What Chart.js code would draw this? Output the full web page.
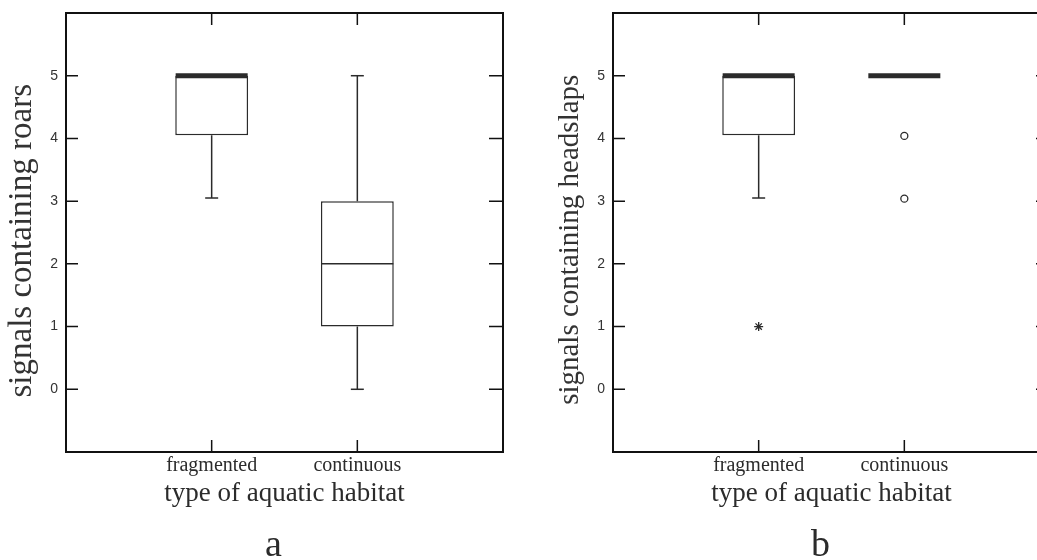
<!DOCTYPE html>
<html>
<head>
<meta charset="utf-8">
<script src="https://cdn.jsdelivr.net/npm/chart.js@4.4.1/dist/chart.umd.min.js"></script>
<style>
  html, body { margin: 0; padding: 0; background: #fff; }
  body { width: 1037px; height: 560px; overflow: hidden; position: relative; }
  canvas { position: absolute; top: 0; }
  #roars { left: 0; }
  #headslaps { left: 547px; }
</style>
</head>
<body>
<canvas id="roars" width="547" height="560"></canvas>
<canvas id="headslaps" width="547" height="560"></canvas>
<script>
const categories = ['fragmented', 'continuous'];
const yTickValues = [0, 1, 2, 3, 4, 5];
const xTitle = 'type of aquatic habitat';

// panel a: signals containing roars
const roarsMin = [3.05, 0];
const roarsQ1 = [4.05, 1];
const roarsMedian = [5, 2];
const roarsQ3 = [5, 3];
const roarsMax = [5, 5];
const roarsOutliers = [[], []];
const roarsExtremes = [[], []];

// panel b: signals containing headslaps
const headslapsMin = [3.05, 5];
const headslapsQ1 = [4.05, 5];
const headslapsMedian = [5, 5];
const headslapsQ3 = [5, 5];
const headslapsMax = [5, 5];
const headslapsOutliers = [[], [4.04, 3.04]];
const headslapsExtremes = [[1], []];

const INK = '#2b2b2b';
const SERIF = "'Liberation Serif', 'Times New Roman', serif";
Chart.defaults.font.family = "'Liberation Sans', Arial, sans-serif";

// box frame with short inward tick marks on all four sides
const framePlugin = {
  id: 'frame',
  afterDatasetsDraw(chart) {
    const { ctx, chartArea: a, scales: { x, y } } = chart;
    ctx.save();
    ctx.strokeStyle = '#111';
    ctx.lineWidth = 2;
    ctx.strokeRect(a.left, a.top, a.right - a.left, a.bottom - a.top);
    ctx.lineWidth = 1.5;
    ctx.beginPath();
    yTickValues.forEach((v) => {
      const py = y.getPixelForValue(v);
      ctx.moveTo(a.left, py);
      ctx.lineTo(a.left + 12, py);
      ctx.moveTo(a.right - 14, py);
      ctx.lineTo(a.right, py);
    });
    categories.forEach((c, i) => {
      const px = x.getPixelForValue(i + 1);
      ctx.moveTo(px, a.top);
      ctx.lineTo(px, a.top + 12);
      ctx.moveTo(px, a.bottom);
      ctx.lineTo(px, a.bottom - 12);
    });
    ctx.stroke();
    ctx.restore();
  },
};

// fixed axis sizes, no extra label padding around the plot
function fixSize(w, h) {
  return (scale) => {
    if (w !== null) scale.width = w;
    if (h !== null) scale.height = h;
    scale.paddingTop = 0;
    scale.paddingBottom = 0;
    scale.paddingLeft = 0;
    scale.paddingRight = 0;
  };
}

function makePanel(id, s) {
  const boxes = categories.map((c, i) => ({ x: i + 1, y: [s.q1[i], s.q3[i]] }));
  const whiskers = [];
  const caps = [];
  categories.forEach((c, i) => {
    if (s.min[i] < s.q1[i]) {
      whiskers.push({ x: i + 1, y: s.min[i] }, { x: i + 1, y: s.q1[i] }, { x: i + 1, y: null });
      caps.push({ x: i + 1, y: s.min[i] });
    }
    if (s.max[i] > s.q3[i]) {
      whiskers.push({ x: i + 1, y: s.q3[i] }, { x: i + 1, y: s.max[i] }, { x: i + 1, y: null });
      caps.push({ x: i + 1, y: s.max[i] });
    }
  });
  const medians = categories.map((c, i) => ({ x: i + 1, y: s.median[i] }));
  const outliers = categories.flatMap((c, i) => s.outliers[i].map((v) => ({ x: i + 1, y: v })));
  const extremes = categories.flatMap((c, i) => s.extremes[i].map((v) => ({ x: i + 1, y: v })));

  return new Chart(document.getElementById(id), {
    type: 'bar',
    data: {
      datasets: [
        {
          type: 'bar',
          data: boxes,
          backgroundColor: '#fff',
          borderColor: INK,
          borderWidth: 1.5,
          borderSkipped: false,
          barPercentage: 0.5,
          categoryPercentage: 1,
          order: 4,
        },
        {
          type: 'line',
          data: whiskers,
          borderColor: INK,
          borderWidth: 1.5,
          pointRadius: 0,
          spanGaps: false,
          order: 3,
        },
        {
          type: 'line',
          data: caps,
          showLine: false,
          pointStyle: 'line',
          pointRadius: 6.5,
          pointBorderWidth: 1.5,
          pointBorderColor: INK,
          order: 2,
        },
        {
          type: 'line',
          data: medians,
          showLine: false,
          pointStyle: 'line',
          pointRadius: 36,
          pointBorderColor: INK,
          pointBorderWidth: (ctx) => (s.median[ctx.dataIndex] === s.q3[ctx.dataIndex] ? 5 : 1.5),
          order: 1,
        },
        {
          type: 'line',
          data: outliers,
          showLine: false,
          pointStyle: 'circle',
          pointRadius: 3.5,
          pointBackgroundColor: '#fff',
          pointBorderColor: INK,
          pointBorderWidth: 1.3,
          order: 0,
        },
        {
          type: 'line',
          data: extremes,
          showLine: false,
          pointStyle: 'star',
          pointRadius: 4.5,
          pointBorderColor: INK,
          pointBorderWidth: 1.3,
          order: 0,
        },
      ],
    },
    options: {
      responsive: false,
      animation: false,
      events: [],
      layout: { autoPadding: false, padding: { top: 13 } },
      plugins: {
        legend: { display: false },
        tooltip: { enabled: false },
        title: {
          display: true,
          text: s.letter,
          position: 'bottom',
          color: INK,
          font: { family: SERIF, size: 38, weight: 'normal', lineHeight: 0.7 },
          padding: { top: 0, bottom: 1 },
        },
      },
      scales: {
        x: {
          type: 'linear',
          min: 0,
          max: 3,
          offset: false,
          grid: { display: false, drawTicks: false },
          border: { display: false },
          ticks: {
            stepSize: 1,
            autoSkip: false,
            maxRotation: 0,
            padding: 2,
            color: INK,
            font: { family: SERIF, size: 20 },
            callback: (v) => categories[v - 1] ?? '',
          },
          title: {
            display: true,
            text: xTitle,
            color: INK,
            font: { family: SERIF, size: 27 },
            padding: { top: 0, bottom: 22 },
          },
          afterFit: fixSize(null, 80.4),
        },
        y: {
          type: 'linear',
          min: -1,
          max: 6,
          grid: { display: false, drawTicks: false },
          border: { display: false },
          ticks: {
            stepSize: 1,
            padding: 8,
            color: '#333',
            font: { size: 14 },
            callback: (v) => (yTickValues.includes(v) ? v : ''),
          },
          title: {
            display: true,
            text: s.yTitle,
            color: '#333',
            font: { family: SERIF, size: s.yTitleSize, lineHeight: 1 },
            padding: { top: s.yTitlePad, bottom: 0 },
          },
          afterFit: fixSize(66, null),
        },
        yRight: {
          type: 'linear',
          position: 'right',
          display: true,
          grid: { display: false, drawTicks: false },
          border: { display: false },
          ticks: { display: false },
          afterFit: fixSize(44, null),
        },
      },
    },
    plugins: [framePlugin],
  });
}

makePanel('roars', {
  min: roarsMin, q1: roarsQ1, median: roarsMedian, q3: roarsQ3, max: roarsMax,
  outliers: roarsOutliers, extremes: roarsExtremes,
  yTitle: 'signals containing roars  ', yTitleSize: 33, yTitlePad: 6, letter: 'a',
});

makePanel('headslaps', {
  min: headslapsMin, q1: headslapsQ1, median: headslapsMedian, q3: headslapsQ3, max: headslapsMax,
  outliers: headslapsOutliers, extremes: headslapsExtremes,
  yTitle: 'signals containing headslaps  ', yTitleSize: 29, yTitlePad: 9, letter: 'b',
});
</script>
</body>
</html>
